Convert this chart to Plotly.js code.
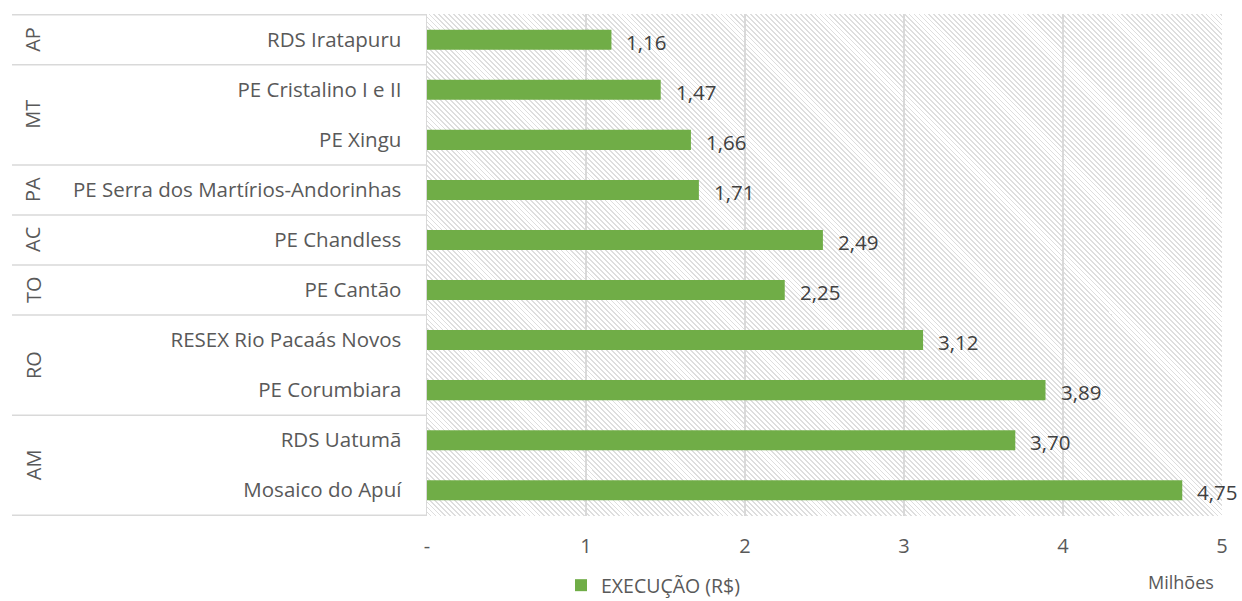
<!DOCTYPE html>
<html>
<head>
<meta charset="utf-8">
<script src="https://cdn.plot.ly/plotly-3.0.1.min.js"></script>
<style>
  html, body { margin:0; padding:0; background:#fff; }
  #wrap { position:relative; width:1242px; height:601px; }
  #hatch { position:absolute; z-index:0;
    background: repeating-linear-gradient(45deg, #ffffff 0px, #ffffff 2.2px, #dedede 2.2px, #dedede 3.5px); }
  #chart { position:absolute; left:0; top:0; width:1242px; height:601px; z-index:1; }
</style>
</head>
<body>
<div id="wrap"><div id="hatch"></div><div id="chart"></div></div>
<script>
// ---- data ----
const categories = ["RDS Iratapuru", "PE Cristalino I e II", "PE Xingu",
  "PE Serra dos Martírios-Andorinhas", "PE Chandless", "PE Cantão",
  "RESEX Rio Pacaás Novos", "PE Corumbiara", "RDS Uatumã", "Mosaico do Apuí"];
const states = ["AP", "MT", "MT", "PA", "AC", "TO", "RO", "RO", "AM", "AM"];
const values = [1.16, 1.47, 1.66, 1.71, 2.49, 2.25, 3.12, 3.89, 3.70, 4.75];
const valueLabels = ["1,16", "1,47", "1,66", "1,71", "2,49", "2,25", "3,12", "3,89", "3,70", "4,75"];
const xTickVals = [0, 1, 2, 3, 4, 5];
const xTickText = ["-", "1", "2", "3", "4", "5"];
const seriesName = "EXECUÇÃO (R$)";
const unitLabel = "Milhões";

// ---- layout constants ----
const W = 1242, H = 601;
const M = {l: 427, r: 20, t: 14, b: 85, autoexpand: false};
const plotW = W - M.l - M.r, plotH = H - M.t - M.b;
const hatch = document.getElementById('hatch');
hatch.style.left = M.l + 'px'; hatch.style.top = M.t + 'px';
hatch.style.width = plotW + 'px'; hatch.style.height = plotH + 'px';

const FONT = '"Open Sans", sans-serif';
const GREY = '#595959';
const LINE = '#d9d9d9';

// group boundaries (category index ranges) from states
const groups = [];
states.forEach((s, i) => {
  if (groups.length && groups[groups.length - 1].s === s) groups[groups.length - 1].end = i;
  else groups.push({s: s, start: i, end: i});
});

const leftX = (12 - M.l) / plotW;
const shapes = [];
shapes.push({type:'line', xref:'paper', yref:'y', x0:leftX, x1:0, y0:-0.5, y1:-0.5, line:{color:LINE, width:1.5}});
groups.forEach(g => {
  shapes.push({type:'line', xref:'paper', yref:'y', x0:leftX, x1:0, y0:g.end + 0.5, y1:g.end + 0.5, line:{color:LINE, width:1.5}});
});

const annotations = [];
groups.forEach(g => {
  annotations.push({xref:'paper', yref:'y', x:(33 - M.l) / plotW, y:(g.start + g.end) / 2,
    text:g.s, showarrow:false, textangle:-90, xanchor:'center', yanchor:'middle',
    font:{family:FONT, size:20, color:GREY}});
});
values.forEach((v, i) => {
  annotations.push({xref:'x', yref:'y', x:v, y:i, text:valueLabels[i], showarrow:false,
    xanchor:'left', yanchor:'middle', xshift:13, yshift:-2,
    font:{family:FONT, size:20.5, color:'#404040'}});
});
annotations.push({xref:'paper', yref:'paper', x:(1181 - M.l) / plotW, y:-(582 - H + M.b) / plotH,
  text:unitLabel, showarrow:false, xanchor:'center', yanchor:'middle',
  font:{family:FONT, size:18, color:GREY}});

const data = [{
  type:'bar', orientation:'h', y:categories, x:values, name:seriesName,
  marker:{color:'#70ad47'}, width:0.4, hoverinfo:'x+y'
}];

const layout = {
  width:W, height:H, margin:M,
  paper_bgcolor:'rgba(0,0,0,0)', plot_bgcolor:'rgba(0,0,0,0)',
  font:{family:FONT, size:20.5, color:GREY},
  xaxis:{range:[0, 5], tickvals:xTickVals, ticktext:xTickText, showgrid:true,
    gridcolor:LINE, gridwidth:1.5, zeroline:false, showline:false, ticks:'',
    ticklabelstandoff:16, automargin:false, tickfont:{family:FONT, size:20, color:GREY}},
  yaxis:{type:'category', autorange:'reversed', showgrid:false, zeroline:false,
    showline:true, linecolor:LINE, linewidth:1.5, ticks:'', ticklabelstandoff:20, automargin:false,
    tickfont:{family:FONT, size:20.5, color:GREY}},
  showlegend:true,
  legend:{orientation:'h', x:(561 - M.l) / plotW, xanchor:'left', y:-(605 - H + M.b) / plotH, yanchor:'bottom',
    font:{family:FONT, size:19.5, color:GREY}, bgcolor:'rgba(0,0,0,0)', itemwidth:30},
  shapes:shapes, annotations:annotations
};

Plotly.newPlot('chart', data, layout, {staticPlot:true});
</script>
</body>
</html>
